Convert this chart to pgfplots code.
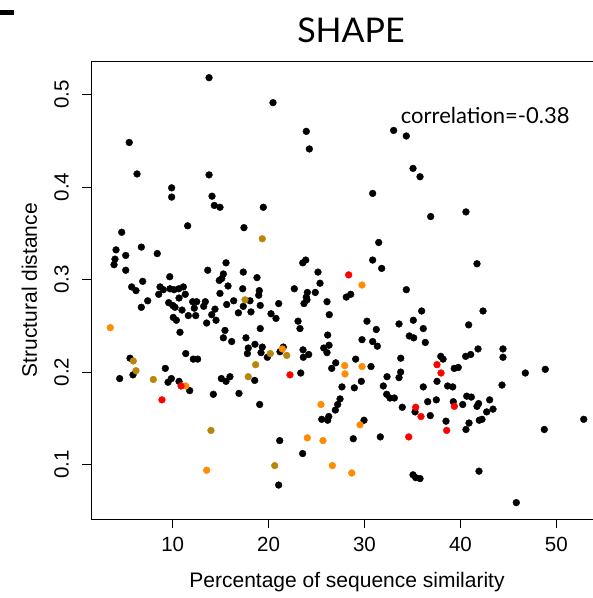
\documentclass[border=0pt]{standalone}
\usepackage{fontspec}
\setmainfont{Liberation Sans}
\newfontfamily\gill{Lato}
\usepackage{pgfplots}
\pgfplotsset{compat=1.18}
\definecolor{rgold}{HTML}{B8860B}
\definecolor{rorange}{HTML}{FF8C00}
\definecolor{rred}{HTML}{FF0000}
\begin{document}
\begin{tikzpicture}[x=1pt,y=1pt]
\path[use as bounding box] (0,0) rectangle (593,598);
\fill[black] (0,583) rectangle (14.4,587.8);
\begin{axis}[
  at={(91pt,78.7pt)}, anchor=south west, scale only axis,
  width=512pt, height=458.3pt,
  xmin=1.48, xmax=54.87, ymin=0.041, ymax=0.536,
  xtick={10,20,30,40,50}, ytick={0.1,0.2,0.3,0.4,0.5},
  tick pos=left, tick align=outside, major tick length=9pt,
  axis line style={line width=0.9pt, black},
  every tick/.style={black, line width=0.8pt},
  /pgf/number format/assume math mode=true,
  /pgf/number format/fixed, /pgf/number format/precision=1,
  tick label style={font=\fontsize{20.5}{24}\selectfont},
  xticklabel style={anchor=north, inner sep=0pt, yshift=-9pt},
  yticklabel style={xshift=-13pt, rotate=90, anchor=south, inner sep=0pt},
  xlabel={Percentage of sequence similarity},
  ylabel={Structural distance},
  label style={font=\fontsize{21}{25}\selectfont},
  xlabel style={at={(axis description cs:0.5,-0.1484)}, anchor=base},
  ylabel style={at={(axis description cs:-0.1055,0.5)}, anchor=base},
  clip=false,
]
\addplot[only marks, mark=*, mark size=3.4pt, color=black] table {
x y
13.79 0.518
5.47 0.448
6.28 0.414
9.89 0.399
9.89 0.389
13.79 0.413
14.10 0.390
14.34 0.380
14.93 0.378
20.46 0.491
23.93 0.460
24.25 0.441
33.04 0.461
34.36 0.455
30.85 0.393
19.45 0.378
35.06 0.420
35.79 0.411
36.90 0.368
40.58 0.373
11.56 0.358
4.68 0.351
4.09 0.332
5.10 0.326
6.73 0.335
8.39 0.328
3.98 0.322
3.88 0.316
5.10 0.310
15.56 0.318
13.65 0.310
15.28 0.306
15.11 0.301
14.86 0.299
15.77 0.293
9.69 0.303
5.72 0.292
6.87 0.298
6.17 0.288
8.68 0.292
8.54 0.284
9.02 0.289
9.72 0.290
10.14 0.289
10.63 0.290
11.11 0.292
11.31 0.284
10.66 0.280
7.39 0.277
6.73 0.270
9.58 0.275
10.00 0.272
10.24 0.270
10.97 0.267
12.08 0.276
12.50 0.276
12.25 0.269
13.40 0.276
13.23 0.271
14.41 0.268
14.07 0.262
14.93 0.285
15.63 0.273
16.36 0.277
16.85 0.264
11.63 0.261
12.40 0.261
10.06 0.259
10.38 0.256
13.54 0.253
14.52 0.256
10.76 0.243
15.45 0.245
15.28 0.237
16.15 0.233
11.36 0.220
12.15 0.214
12.60 0.214
9.23 0.204
5.55 0.215
5.86 0.197
4.47 0.193
9.86 0.193
9.51 0.189
10.66 0.190
11.77 0.180
14.24 0.176
15.07 0.193
15.56 0.190
15.97 0.195
16.91 0.177
17.43 0.356
31.48 0.340
30.85 0.321
31.79 0.312
23.87 0.321
23.56 0.318
25.15 0.308
25.36 0.296
17.36 0.308
18.79 0.302
17.30 0.290
19.03 0.288
18.97 0.283
22.68 0.290
24.04 0.286
24.87 0.286
23.93 0.281
24.00 0.278
23.69 0.274
26.09 0.276
28.10 0.281
28.56 0.284
34.36 0.289
26.33 0.262
17.36 0.271
18.06 0.277
18.16 0.265
19.13 0.272
21.05 0.274
20.25 0.263
20.77 0.258
23.07 0.255
23.27 0.247
19.13 0.247
30.26 0.255
31.23 0.246
33.60 0.252
34.67 0.239
26.16 0.240
17.64 0.237
29.74 0.235
30.85 0.233
31.34 0.228
18.58 0.230
17.88 0.226
17.79 0.220
19.34 0.227
19.21 0.221
19.87 0.216
21.19 0.222
21.53 0.227
23.59 0.224
24.18 0.219
23.62 0.216
25.75 0.226
26.30 0.229
26.09 0.221
27.00 0.210
26.58 0.204
29.08 0.214
30.68 0.206
33.78 0.215
18.55 0.191
19.07 0.165
23.35 0.199
27.65 0.184
28.94 0.183
29.67 0.190
27.45 0.171
27.20 0.165
26.96 0.159
26.27 0.152
25.54 0.149
26.16 0.148
29.95 0.148
21.16 0.126
28.83 0.128
31.65 0.130
23.55 0.112
21.05 0.078
32.35 0.195
31.96 0.185
32.31 0.176
32.66 0.172
33.11 0.172
33.94 0.162
33.60 0.194
33.77 0.200
41.73 0.317
35.96 0.266
42.36 0.266
35.09 0.256
36.13 0.247
40.86 0.251
35.13 0.237
36.34 0.232
41.84 0.225
44.44 0.225
44.44 0.216
40.55 0.217
41.07 0.219
37.95 0.217
38.19 0.214
39.36 0.204
39.78 0.205
48.85 0.203
46.77 0.199
36.13 0.184
37.56 0.190
38.67 0.185
39.20 0.184
44.34 0.186
40.66 0.174
41.14 0.173
43.05 0.170
41.90 0.166
41.73 0.163
43.40 0.160
42.74 0.157
40.24 0.165
39.26 0.168
37.49 0.170
36.59 0.168
35.27 0.157
36.86 0.153
38.50 0.147
40.90 0.145
40.58 0.138
41.97 0.148
42.25 0.149
48.75 0.138
52.86 0.149
35.06 0.089
35.34 0.086
35.79 0.085
41.94 0.093
45.83 0.059
};
\addplot[only marks, mark=*, mark size=3.4pt, color=rgold] table {
x y
5.89 0.212
6.17 0.2015
7.98 0.192
13.99 0.137
19.34 0.344
17.54 0.278
20.18 0.220
21.89 0.218
18.65 0.208
17.88 0.195
20.64 0.099
};
\addplot[only marks, mark=*, mark size=3.4pt, color=rorange] table {
x y
3.49 0.248
11.36 0.185
13.54 0.094
29.74 0.294
21.43 0.225
27.93 0.207
29.74 0.206
27.97 0.198
25.46 0.165
29.53 0.143
24.04 0.129
25.67 0.126
26.65 0.099
28.67 0.091
};
\addplot[only marks, mark=*, mark size=3.4pt, color=rred] table {
x y
10.87 0.185
8.88 0.170
28.35 0.305
22.23 0.197
34.61 0.130
37.56 0.208
37.98 0.199
39.37 0.163
35.34 0.162
35.89 0.152
38.57 0.137
};
\end{axis}
\node[font=\gill\fontsize{34}{40}\selectfont, anchor=base, inner sep=0pt] at (351,555) {SHAPE};
\node[font=\gill\fontsize{22}{26}\selectfont, anchor=base west, inner sep=0pt] at (400.7,474.7) {correlation=-0.38};
\end{tikzpicture}
\end{document}
